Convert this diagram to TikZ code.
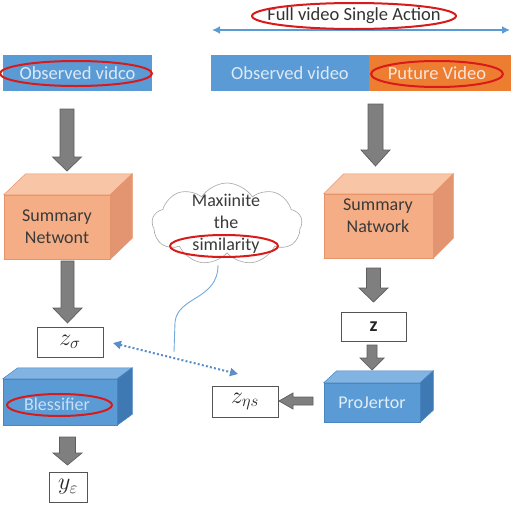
\documentclass[tikz,border=0pt]{standalone}
\usepackage{fontspec}
\setmainfont{Carlito}
\usepackage{fix-cm}
\usetikzlibrary{shapes.symbols,calc,arrows.meta}
\definecolor{barblue}{HTML}{5B9BD5}
\definecolor{barorange}{HTML}{ED7D31}
\definecolor{bartxt}{HTML}{DCE9F6}
\definecolor{orangetxt}{HTML}{FCE4D6}
\definecolor{titlegray}{HTML}{333333}
\definecolor{txtgray}{HTML}{3A3A3A}
\definecolor{sumfront}{HTML}{F4AD84}
\definecolor{sumtop}{HTML}{F8C6A6}
\definecolor{sumside}{HTML}{E39572}
\definecolor{sumedge}{HTML}{E8946A}
\definecolor{bluefront}{HTML}{5B9BD5}
\definecolor{bluetop}{HTML}{82B4E3}
\definecolor{blueside}{HTML}{3F79B3}
\definecolor{blueedge}{HTML}{4A86C0}
\definecolor{clftxt}{HTML}{C9DFF4}
\definecolor{projtxt}{HTML}{E2EDF8}
\definecolor{boxline}{HTML}{555555}
\definecolor{ringred}{HTML}{D91A1A}
\definecolor{arrowgray}{HTML}{7F7F7F}
\definecolor{arrowline}{HTML}{5E5E5E}
\definecolor{cloudgray}{HTML}{A6A6A6}
\definecolor{dotblue}{HTML}{5A8FCB}
\newcommand\boxfaces[6]{%
  \filldraw[fill=#4,draw=#6,line width=0.5pt] (#1.north west) -- ++(#2,-#3) -- ($(#1.north east)+(#2,-#3)$) -- (#1.north east) -- cycle;
  \filldraw[fill=#5,draw=#6,line width=0.5pt] (#1.north east) -- ++(#2,-#3) -- ($(#1.south east)+(#2,-#3)$) -- (#1.south east) -- cycle;}
\newcommand\blockarr[5]{%
  \coordinate (#1#2h) at ($(#2)!#5!(#1)$);
  \draw[garrow] ($(#1)!#3!90:(#2)$) -- ($(#1#2h)!#3!90:(#2)$) -- ($(#1#2h)!#4!90:(#2)$) -- (#2)
    -- ($(#1#2h)!#4!-90:(#2)$) -- ($(#1#2h)!#3!-90:(#2)$) -- ($(#1)!#3!-90:(#2)$) -- cycle;}
\begin{document}
\begin{tikzpicture}[x=1pt,y=-1pt,
  lbl/.style={font=\fontsize{18}{22}\selectfont, text=txtgray, align=center, inner sep=0pt},
  bar/.style={fill=barblue, minimum height=36pt, inner sep=0pt, text=bartxt, font=\fontsize{18.5}{22}\selectfont},
  obar/.style={bar, fill=barorange, text=orangetxt},
  varbox/.style={draw=boxline, line width=0.8pt, fill=white, inner sep=0pt, text=black!85, font=\fontsize{24}{26}\selectfont},
  redring/.style={draw=ringred, line width=2pt},
  garrow/.style={fill=arrowgray, draw=arrowline, line width=0.7pt, line join=miter},
  sumface/.style={fill=sumfront, draw=sumedge, line width=0.5pt, inner sep=0pt},
  blueface/.style={fill=bluefront, draw=blueedge, line width=0.5pt, inner sep=0pt}]
\fill[white] (0,0) rectangle (512,512);
\useasboundingbox (0,0) rectangle (512,512);

% title and span arrow
\node[lbl, text=titlegray, font=\fontsize{18.5}{22}\selectfont] (title) at (354,16) {Full video Single Action};
\coordinate (tl) at (212,30);
\coordinate (tr) at (510,30);
\draw[barblue, line width=1.6pt, {Latex[length=8pt,width=8pt]}-{Latex[length=8pt,width=8pt]}] (tl) -- (tr);

% bars
\node[bar, minimum width=149pt] (obsL) at (77.5,73) {Observed vidco};
\node[bar, minimum width=158pt] (obsR) at (290,73) {Observed video};
\node[obar, minimum width=142pt] (fut) at (440,73) {};
\node[lbl, text=orangetxt, font=\fontsize{18.5}{22}\selectfont] (futt) at (437,73) {Puture Video};

% summary boxes
\node[sumface, minimum width=106pt, minimum height=64pt] (sumL) at (57,227) {};
\boxfaces{sumL}{22}{21}{sumtop}{sumside}{sumedge}
\node[lbl] (sumLt) at (57,227) {Summary\\Netwont};
\node[sumface, minimum width=109pt, minimum height=64pt] (sumR) at (378.5,226) {};
\boxfaces{sumR}{20}{20}{sumtop}{sumside}{sumedge}
\node[lbl] (sumRt) at (378,216) {Summary\\Natwork};

% cloud
\node[cloud, cloud puffs=9, cloud puff arc=115, cloud ignores aspect, minimum width=150pt, minimum height=82pt,
      draw=cloudgray, line width=0.6pt, fill=white, inner sep=0pt] (cloud) at (227,224) {};
\node[lbl] (cloudt) at (226,224) {Maxiinite\\the\\similarity};
\coordinate (tailstart) at (218,265);
\coordinate (tailend) at (174,352);
\draw[barblue!85, line width=0.9pt] (tailstart) .. controls (218,300) and (178,296) .. (175,322) -- (tailend);

% dotted double arrow
\coordinate (dl) at (113,343);
\coordinate (dr) at (238,374);
\draw[dotblue, line width=2pt, dash pattern=on 2pt off 2.2pt, {Triangle[length=8pt,width=8pt]}-{Triangle[length=8pt,width=8pt]}] (dl) -- (dr);

% left column
\node[varbox, minimum width=66pt, minimum height=30pt] (zL) at (70,342) {$z_\sigma$};
\node[blueface, minimum width=114pt, minimum height=46pt] (clf) at (60,402) {};
\boxfaces{clf}{15}{11}{bluetop}{blueside}{blueedge}
\node[lbl, text=clftxt] (clft) at (57,404) {Blessifier};
\node[varbox, minimum width=38pt, minimum height=30pt] (yL) at (68,487) {$y_\varepsilon$};

% right column
\node[varbox, minimum width=65pt, minimum height=29pt, font=\fontsize{20}{22}\selectfont\bfseries] (zR) at (373.5,326.5) {z};
\node[blueface, minimum width=96pt, minimum height=39pt] (proj) at (372,402.5) {};
\boxfaces{proj}{13}{12}{bluetop}{blueside}{blueedge}
\node[lbl, text=projtxt] (projt) at (372,403) {ProJertor};
\node[varbox, minimum width=66pt, minimum height=31pt] (zps) at (245,401.5) {$z_{\eta s}$};

% block arrows
\coordinate (a1s) at (67,109);   \coordinate (a1e) at (67,171);
\coordinate (a2s) at (375.5,104); \coordinate (a2e) at (375.5,166);
\coordinate (a3s) at (67.5,261); \coordinate (a3e) at (67.5,323);
\coordinate (a4s) at (373.5,268); \coordinate (a4e) at (373.5,302);
\coordinate (a5s) at (372,345);  \coordinate (a5e) at (372,370);
\coordinate (a6s) at (67.5,437); \coordinate (a6e) at (67.5,465);
\coordinate (a7s) at (313,401);  \coordinate (a7e) at (279,401);
\blockarr{a1s}{a1e}{7pt}{14.5pt}{14pt}
\blockarr{a2s}{a2e}{7.5pt}{14.5pt}{16pt}
\blockarr{a3s}{a3e}{6.5pt}{14.5pt}{15pt}
\blockarr{a4s}{a4e}{7pt}{14.5pt}{14pt}
\blockarr{a5s}{a5e}{5pt}{12pt}{12pt}
\blockarr{a6s}{a6e}{8pt}{14.5pt}{12pt}
\blockarr{a7s}{a7e}{4pt}{8pt}{14pt}

% red rings
\draw[redring] (354,16) ellipse [x radius=102, y radius=13];
\draw[redring] (76,73.5) ellipse [x radius=76, y radius=12.5];
\draw[redring] (437,74) ellipse [x radius=66, y radius=13];
\draw[redring] (224,246) ellipse [x radius=54, y radius=11];
\draw[redring] (59.5,405) ellipse [x radius=52.5, y radius=11];
\end{tikzpicture}
\end{document}
